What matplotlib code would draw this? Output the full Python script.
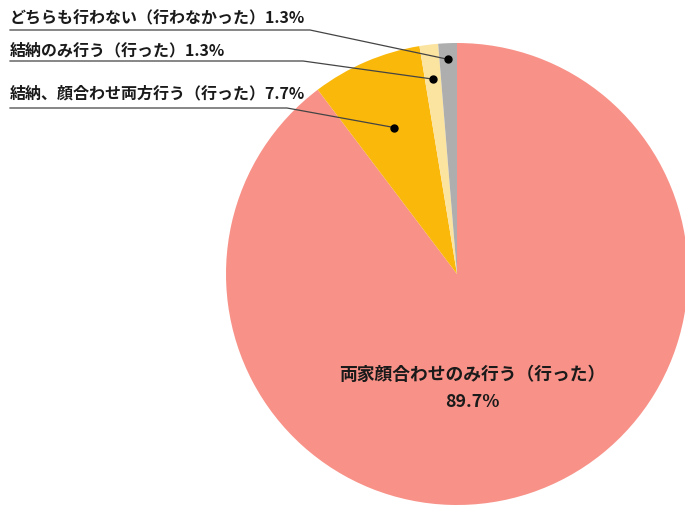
import numpy as np
import matplotlib
matplotlib.use("Agg")
import matplotlib.pyplot as plt

plt.rcParams['font.family'] = ['Noto Sans CJK JP', 'DejaVu Sans']

# データ（時計回り、12時から）
labels = ["両家顔合わせのみ行う（行った）", "結納、顔合わせ両方行う（行った）",
          "結納のみ行う（行った）", "どちらも行わない（行わなかった）"]
values = [89.7, 7.7, 1.3, 1.3]
colors = ['#F89288', '#FAB80A', '#FBE3A0', '#AEAEAE']

fig = plt.figure(figsize=(6.85, 5.07), dpi=100)
ax = fig.add_axes([0, 0, 1, 1])

cx, cy, R = 457, 507 - 274, 231
wedges, _ = ax.pie(values, colors=colors, startangle=90, counterclock=False,
                   center=(cx, cy), radius=R, wedgeprops=dict(linewidth=0))
ax.set_xlim(0, 685)
ax.set_ylim(0, 507)
ax.set_aspect('equal')
ax.axis('off')

# 大きいスライスのラベル
ax.text(472, 507 - 375, labels[0], ha='center', va='center', fontsize=12.8,
        fontweight='bold', color='#1a1a1a')
ax.text(472, 507 - 402, f"{values[0]}%", ha='center', va='center', fontsize=12.8,
        fontweight='bold', color='#1a1a1a')

# 小さいスライスの引き出し線ラベル
text_y = {3: 18, 2: 50, 1: 93}
line_y = {3: 30, 2: 61, 1: 108}
line_end = {3: 310, 2: 303, 1: 287}
rfrac = {3: 0.93, 2: 0.85, 1: 0.69}
for i in [1, 2, 3]:
    w = wedges[i]
    ang = np.deg2rad((w.theta1 + w.theta2) / 2)
    px = cx + rfrac[i] * R * np.cos(ang)
    py = cy + rfrac[i] * R * np.sin(ang)
    ax.text(10, 507 - text_y[i], f"{labels[i]}{values[i]}%", ha='left', va='center',
            fontsize=11.5, fontweight='bold', color='#1a1a1a')
    ax.plot([10, line_end[i], px], [507 - line_y[i]] * 2 + [py], color='#444444', lw=0.9)
    ax.plot(px, py, 'o', color='black', markersize=5)

fig.savefig('out.png', dpi=100)
